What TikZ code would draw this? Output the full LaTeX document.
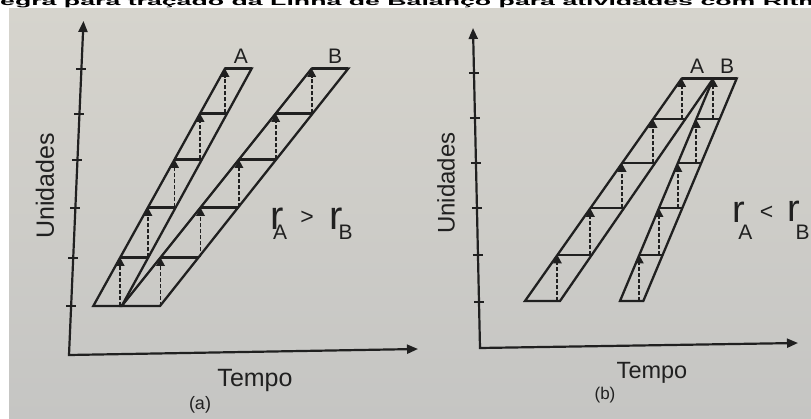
\documentclass[tikz,border=0pt]{standalone}
\usepackage{fontspec}
\setmainfont{Liberation Sans}
\usetikzlibrary{arrows.meta,calc}
\definecolor{ink}{RGB}{32,32,32}
\definecolor{papertop}{RGB}{214,212,205}
\definecolor{paperbot}{RGB}{197,197,195}
\tikzset{
  axisline/.style={ink, line width=2.2pt, line join=miter},
  tickmark/.style={ink, line width=2pt},
  band/.style={ink, line width=2.3pt, line join=miter},
  rung/.style={ink, line width=2.3pt},
  uparrow/.style={ink, line width=1.9pt, dash pattern=on 4pt off 2pt, -{Triangle[width=8.5pt,length=8.5pt]}},
  lbl/.style={text=ink, inner sep=0pt},
}
\newcommand\lobband[7]{%
  \draw[band] (#1) -- (#2) -- (#3) -- (#4) -- cycle;
  \foreach \ya/\yb in {#7}{%
    \pgfmathsetmacro\lobt{(#5-\yb)/(#5-#6)}%
    \coordinate (lp) at ($(#1)!\lobt!(#2)$);
    \coordinate (rp) at ($(#4)!\lobt!(#3)$);
    \coordinate (bp) at (0,\ya);
    \draw[rung] (lp) -- (rp);
    \draw[uparrow] (lp |- bp) -- (lp);
  }%
}
\newcommand\lobsub[4]{{\fontsize{#1}{#1}\selectfont r}\kern#2pt\raisebox{#3pt}{\fontsize{21}{24}\selectfont #4}}
\begin{document}
\begin{tikzpicture}[x=1pt,y=-1pt]
\useasboundingbox (0,0) rectangle (811,419);
\clip (0,0) rectangle (811,419);
\fill[white] (0,0) rectangle (811,419);
\shade[top color=papertop, bottom color=paperbot] (9,9) rectangle (811,419);

% title (cut off at the top)
\node[anchor=base west, inner sep=0pt, font=\bfseries\fontsize{26.7}{30}\selectfont, text=black] (title) at (-19.3,5.3)
  {\scalebox{1}[0.42]{Regra para traçado da Linha de Balanço para atividades com Ritmos diferentes}};

% ---------------- (a) ----------------
\coordinate (Oa) at (69,355);
\coordinate (Ya) at (83.5,21);
\coordinate (Xa) at (418,349);
\draw[axisline, {Triangle[width=9pt,length=11pt]}-{Triangle[width=9pt,length=11pt]}] (Ya) -- (Oa) -- (Xa);
\foreach \y in {69,114,160,208,258,306}{
  \pgfmathsetmacro\lobt{(355-\y)/334}
  \draw[tickmark] ($(Oa)!\lobt!(Ya)$) ++(-5,0) -- ++(10,0);
}
\coordinate (aA1) at (93.3,306);
\coordinate (aA2) at (225,68.5);
\coordinate (aA3) at (251.7,68.5);
\coordinate (aA4) at (121.7,306);
\coordinate (aB2) at (311.7,68.5);
\coordinate (aB3) at (348.3,68.5);
\coordinate (aB4) at (160,306);
\lobband{aA1}{aA2}{aA3}{aA4}{306}{68.5}{306/257.5,257.5/207.5,207.5/159.5,159.5/113.5,113.5/68.5}
\lobband{aA4}{aB2}{aB3}{aB4}{306}{68.5}{306/257.5,257.5/207.5,207.5/159.5,159.5/113.5,113.5/68.5}

\node[lbl, font=\fontsize{21}{24}\selectfont] (aLA) at (241,56) {A};
\node[lbl, font=\fontsize{21}{24}\selectfont] (aLB) at (335,56) {B};
\node[lbl, anchor=base west] (arA) at (270.5,230) {\lobsub{40}{-11}{-10}{A}};
\node[lbl, font=\fontsize{23}{26}\selectfont] (agt) at (307,218) {>};
\node[lbl, anchor=base west] (arB) at (329.5,230) {\lobsub{40}{-4.3}{-10}{B}};

\node[lbl, rotate=90, font=\fontsize{25}{28}\selectfont] (aU) at (45,186) {Unidades};
\node[lbl, anchor=base, font=\fontsize{25}{28}\selectfont] (aT) at (255,387) {Tempo};
\node[lbl, font=\fontsize{18}{20}\selectfont] (acap) at (200,405) {(a)};

% ---------------- (b) ----------------
\coordinate (Ob) at (480,348);
\coordinate (Yb) at (473,28);
\coordinate (Xb) at (798,343);
\draw[axisline, {Triangle[width=9pt,length=11pt]}-{Triangle[width=9pt,length=11pt]}] (Yb) -- (Ob) -- (Xb);
\foreach \y in {73,118,163,208,255,302}{
  \pgfmathsetmacro\lobt{(348-\y)/320}
  \draw[tickmark] ($(Ob)!\lobt!(Yb)$) ++(-5,0) -- ++(10,0);
}
\coordinate (bA1) at (525,301);
\coordinate (bA2) at (681.7,78.5);
\coordinate (bA3) at (713.3,78.5);
\coordinate (bA4) at (560,301);
\coordinate (bB1) at (620,301);
\coordinate (bB3) at (736.7,78.5);
\coordinate (bB4) at (643.3,301);
\lobband{bA1}{bA2}{bA3}{bA4}{301}{78.5}{301/255,255/208.3,208.3/163.3,163.3/119.3,119.3/78.5}
\lobband{bB1}{bA3}{bB3}{bB4}{301}{78.5}{301/255,255/208.3,208.3/163.3,163.3/119.3,119.3/78.5}

\node[lbl, font=\fontsize{21}{24}\selectfont] (bLA) at (697,66) {A};
\node[lbl, font=\fontsize{21}{24}\selectfont] (bLB) at (727,66) {B};
\node[lbl, anchor=base west] (brA) at (732.4,223) {\lobsub{38}{-7}{-17}{A}};
\node[lbl, font=\fontsize{23}{26}\selectfont] (blt) at (766.5,213) {<};
\node[lbl, anchor=base west] (brB) at (787.4,222) {\lobsub{38}{-4.6}{-18}{B}};

\node[lbl, rotate=90, font=\fontsize{24}{27}\selectfont] (bU) at (446,183) {Unidades};
\node[lbl, anchor=base, font=\fontsize{23.5}{26}\selectfont] (bT) at (652,379) {Tempo};
\node[lbl, font=\fontsize{17}{19}\selectfont] (bcap) at (605,395) {(b)};
\end{tikzpicture}
\end{document}
